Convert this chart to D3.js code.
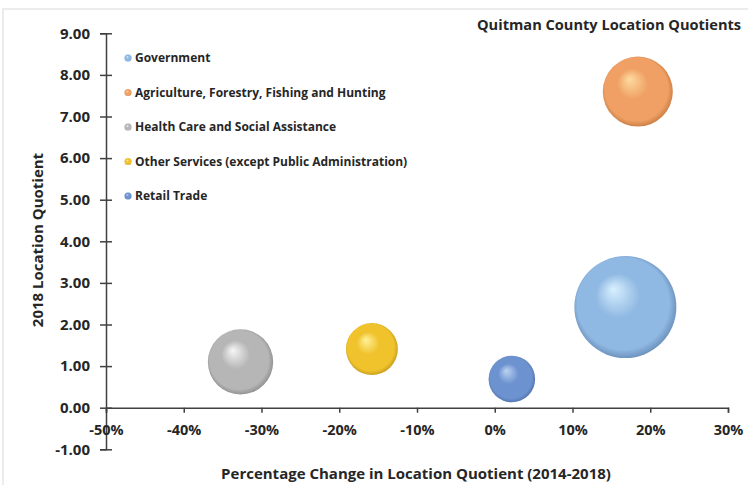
<!DOCTYPE html>
<html>
<head>
<meta charset="utf-8">
<script src="https://cdn.jsdelivr.net/npm/d3@7"></script>
<style>
  body { margin: 0; background: #fff; }
  text { font-family: "Open Sans", sans-serif; font-weight: bold; fill: #262626; }
</style>
</head>
<body>
<svg id="chart"></svg>
<script>
// series data
var industries = ["Government", "Agriculture, Forestry, Fishing and Hunting", "Health Care and Social Assistance",
  "Other Services (except Public Administration)", "Retail Trade"];
var pctChange = [0.168, 0.184, -0.327, -0.158, 0.022];
var lq2018 = [2.42, 7.6, 1.10, 1.41, 0.69];
var bubbleSize = [490, 231, 201, 127, 102];
var xTicks = [-0.5, -0.4, -0.3, -0.2, -0.1, 0, 0.1, 0.2, 0.3];
var yTicks = [-1, 0, 1, 2, 3, 4, 5, 6, 7, 8, 9];

// sphere colours: [highlight, base, shadow]
var palette = [
  ["#d8f0ff", "#8fb8e2", "#5a7ea8"],
  ["#fddca0", "#f0a064", "#b86c34"],
  ["#f6f6f6", "#b6b6b6", "#7c7c7c"],
  ["#fff29a", "#f0c22c", "#b08c14"],
  ["#bcd4f2", "#6d92d0", "#45679e"]
];

var width = 748, height = 485;
var svg = d3.select("#chart").attr("width", width).attr("height", height);

// faint chart border
svg.append("path")
  .attr("d", "M3," + height + "V9H" + width)
  .attr("fill", "none")
  .attr("stroke", "#e6e6e6")
  .attr("stroke-width", 1.5);

var x = d3.scaleLinear().domain([-0.5, 0.3]).range([106, 728]);
var y = d3.scaleLinear().domain([-1, 9]).range([449.3, 33.3]);
var r = d3.scaleSqrt().domain([0, d3.max(bubbleSize)]).range([0, 51]);

var defs = svg.append("defs");
palette.forEach(function(c, i){
  var g = defs.append("radialGradient")
    .attr("id", "sphere" + i)
    .attr("cx", "50%").attr("cy", "50%").attr("r", "55%")
    .attr("fx", "38%").attr("fy", "32%");
  g.append("stop").attr("offset", "0%").attr("stop-color", c[0]);
  g.append("stop").attr("offset", "40%").attr("stop-color", c[1]);
  g.append("stop").attr("offset", "82%").attr("stop-color", c[1]);
  g.append("stop").attr("offset", "100%").attr("stop-color", c[2]);
});

// hyphen minus like the original, not the unicode one
var pct = function(d){ return d3.format(".0%")(d).replace("\u2212", "-"); };
var dec = function(d){ return d3.format(".2f")(d).replace("\u2212", "-"); };

// y axis at x = -50%
var yAxis = svg.append("g")
  .attr("transform", "translate(" + x(-0.5) + ",0)")
  .call(d3.axisLeft(y).tickValues(yTicks).tickSize(6).tickFormat(dec));
yAxis.selectAll(".tick line").attr("x1", 6).attr("x2", -6);
yAxis.selectAll(".tick text").attr("x", -16).style("font-size", "15px").style("font-family", "Open Sans").style("font-weight", "bold");

// x axis at y = 0
var xAxis = svg.append("g")
  .attr("transform", "translate(0," + y(0) + ")")
  .call(d3.axisBottom(x).tickValues(xTicks).tickSize(5).tickFormat(pct));
xAxis.selectAll(".tick text").attr("y", 17).style("font-size", "14.5px").style("font-family", "Open Sans").style("font-weight", "bold");

svg.selectAll(".domain, .tick line").attr("stroke", "#404040").attr("stroke-width", 1.5);
svg.selectAll(".tick text").attr("fill", "#262626");

// bubbles
var idx = d3.range(industries.length).sort(function(a, b){ return bubbleSize[b] - bubbleSize[a]; });
svg.append("g").selectAll("circle")
  .data(idx)
  .enter()
  .append("circle")
  .attr("cx", function(i){ return x(pctChange[i]); })
  .attr("cy", function(i){ return y(lq2018[i]); })
  .attr("r", function(i){ return r(bubbleSize[i]); })
  .attr("fill", function(i){ return "url(#sphere" + i + ")"; });

// legend
var legend = svg.append("g").selectAll("g")
  .data(industries)
  .enter()
  .append("g")
  .attr("transform", function(d, i){ return "translate(128," + (58 + i * 34.5) + ")"; });
legend.append("circle")
  .attr("r", 3.5)
  .attr("fill", function(d, i){ return "url(#sphere" + i + ")"; });
legend.append("text")
  .attr("x", 7)
  .attr("dy", "0.35em")
  .style("font-size", "12px")
  .text(function(d){ return d; });

// titles
svg.append("text")
  .attr("x", 477).attr("y", 25).attr("dy", "0.35em")
  .style("font-size", "14.6px")
  .text("Quitman County Location Quotients");

svg.append("text")
  .attr("transform", "translate(38,240) rotate(-90)")
  .attr("text-anchor", "middle")
  .attr("dy", "0.35em")
  .style("font-size", "15px")
  .text("2018 Location Quotient");

svg.append("text")
  .attr("x", 416).attr("y", 474).attr("dy", "0.35em")
  .attr("text-anchor", "middle")
  .style("font-size", "15px")
  .text("Percentage Change in Location Quotient (2014-2018)");
</script>
</body>
</html>
